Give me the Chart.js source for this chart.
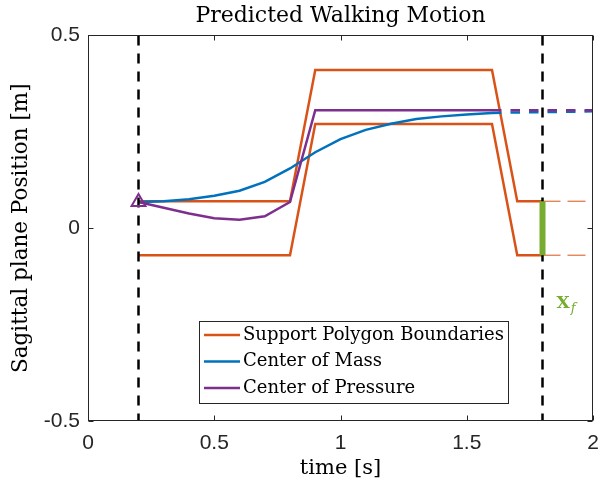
<!DOCTYPE html>
<html>
<head>
<meta charset="utf-8">
<script src="https://cdn.jsdelivr.net/npm/chart.js@4.4.1/dist/chart.umd.min.js"></script>
<style>
html,body{margin:0;padding:0;background:#fff;}
#wrap{width:600px;height:486px;}
</style>
</head>
<body>
<div id="wrap"><canvas id="c" width="600" height="486"></canvas></div>
<script>
// ---- data ----
const titleText = "Predicted Walking Motion";
const xTitle = "time [s]";
const yTitle = "Sagittal plane Position [m]";
const xTicks = [0, 0.5, 1, 1.5, 2];
const yTicks = [-0.5, 0, 0.5];
const legendLabels = ["Support Polygon Boundaries", "Center of Mass", "Center of Pressure"];

const supportT = [0.2, 0.8, 0.9, 1.6, 1.7, 1.8];
const supportUpper = [0.07, 0.07, 0.41, 0.41, 0.07, 0.07];
const supportLower = [-0.07, -0.07, 0.27, 0.27, -0.07, -0.07];
const supportExtT = [1.8, 2.0];
const supportExtUpper = [0.07, 0.07];
const supportExtLower = [-0.07, -0.07];

const comT = [0.2, 0.3, 0.4, 0.5, 0.6, 0.7, 0.8, 0.9, 1.0, 1.1, 1.2, 1.3, 1.4, 1.5, 1.6];
const comY = [0.068, 0.070, 0.075, 0.084, 0.097, 0.120, 0.155, 0.197, 0.231, 0.255, 0.271, 0.283, 0.290, 0.295, 0.299];
const comPredT = [1.6, 2.0];
const comPredY = [0.299, 0.303];

const copT = [0.2, 0.3, 0.4, 0.5, 0.6, 0.7, 0.8, 0.9, 1.6];
const copY = [0.068, 0.053, 0.038, 0.026, 0.022, 0.031, 0.068, 0.306, 0.306];
const copPredT = [1.6, 2.0];
const copPredY = [0.306, 0.306];

const startMarker = [0.2, 0.068];
const phaseLinesT = [0.2, 1.8];
const xfT = 1.8;
const xfRange = [-0.07, 0.07];
const xfLabel = ["X", "f"];

const C_OR = "#D95319", C_BL = "#0072BD", C_PU = "#7E2F8E", C_GR = "#77AC30", C_AX = "#262626";

const pts = (xs, ys) => xs.map((x, i) => ({x: x, y: ys[i]}));
const base = {fill: false, pointRadius: 0, tension: 0, borderCapStyle: 'butt', borderJoinStyle: 'miter'};

const datasets = [
  Object.assign({}, base, {label: 'sup_up', data: pts(supportT, supportUpper), borderColor: C_OR, borderWidth: 2.5, order: 8}),
  Object.assign({}, base, {label: 'sup_lo', data: pts(supportT, supportLower), borderColor: C_OR, borderWidth: 2.5, order: 8}),
  Object.assign({}, base, {label: 'sup_ext_up', data: pts(supportExtT, supportExtUpper), borderColor: C_OR, borderWidth: 1, borderDash: [18, 7], order: 8}),
  Object.assign({}, base, {label: 'sup_ext_lo', data: pts(supportExtT, supportExtLower), borderColor: C_OR, borderWidth: 1, borderDash: [18, 7], order: 8}),
  Object.assign({}, base, {label: 'com', data: pts(comT, comY), borderColor: C_BL, borderWidth: 2.5, order: 7}),
  Object.assign({}, base, {label: 'com_pred', data: pts(comPredT, comPredY), borderColor: C_BL, borderWidth: 2.5, borderDash: [9.5, 9], order: 7}),
  Object.assign({}, base, {label: 'cop', data: pts(copT, copY), borderColor: C_PU, borderWidth: 2.5, order: 6}),
  Object.assign({}, base, {label: 'cop_pred', data: pts(copPredT, copPredY), borderColor: C_PU, borderWidth: 2.5, borderDash: [9.5, 9], order: 6}),
  Object.assign({}, base, {label: 'phase1', data: pts([phaseLinesT[0], phaseLinesT[0]], [0.5, -0.5]), borderColor: '#000', borderWidth: 2.5, borderDash: [10, 8], order: 4}),
  Object.assign({}, base, {label: 'phase2', data: pts([phaseLinesT[1], phaseLinesT[1]], [0.5, -0.5]), borderColor: '#000', borderWidth: 2.5, borderDash: [10, 8], order: 4}),
  Object.assign({}, base, {label: 'xf', data: pts([xfT, xfT], xfRange), borderColor: C_GR, borderWidth: 6, order: 2}),
  {label: 'start', data: pts([startMarker[0]], [startMarker[1]]), showLine: false, pointStyle: 'triangle', pointRadius: 8, borderWidth: 2, pointBorderColor: C_PU, pointBackgroundColor: 'rgba(0,0,0,0)', borderColor: C_PU, order: 1}
];

const boxPlugin = {
  id: 'boxPlugin',
  afterDatasetsDraw(chart) {
    const ctx = chart.ctx, a = chart.chartArea, xs = chart.scales.x, ys = chart.scales.y;
    ctx.save();
    ctx.strokeStyle = C_AX; ctx.lineWidth = 1;
    const L = Math.round(a.left) + 0.5, R = Math.round(a.right) - 0.5, T = Math.round(a.top) + 0.5, B = Math.round(a.bottom) - 0.5;
    ctx.strokeRect(L, T, R - L, B - T);
    ctx.beginPath();
    xTicks.forEach(v => {
      const px = Math.round(xs.getPixelForValue(v)) + 0.5;
      ctx.moveTo(px, B); ctx.lineTo(px, B - 5);
      ctx.moveTo(px, T); ctx.lineTo(px, T + 5);
    });
    yTicks.forEach(v => {
      const py = Math.round(ys.getPixelForValue(v)) + 0.5;
      ctx.moveTo(L, py); ctx.lineTo(L + 5, py);
      ctx.moveTo(R, py); ctx.lineTo(R - 5, py);
    });
    ctx.stroke();
    ctx.restore();
  },
  afterDraw(chart) {
    const ctx = chart.ctx, xs = chart.scales.x, ys = chart.scales.y;
    ctx.save();
    // legend
    const bx = 199.5, by = 321.5, bw = 309, bh = 82;
    ctx.fillStyle = '#fff';
    ctx.fillRect(bx, by, bw, bh);
    ctx.strokeStyle = C_AX; ctx.lineWidth = 1;
    ctx.strokeRect(bx, by, bw, bh);
    const cols = [C_OR, C_BL, C_PU];
    ctx.font = '18px "DejaVu Serif"';
    ctx.textBaseline = 'middle'; ctx.textAlign = 'left';
    legendLabels.forEach((t, i) => {
      const yy = 335 + i * 26.5;
      ctx.strokeStyle = cols[i]; ctx.lineWidth = 2.5;
      ctx.beginPath(); ctx.moveTo(204, yy); ctx.lineTo(240, yy); ctx.stroke();
      ctx.fillStyle = '#000';
      ctx.fillText(t, 243, yy);
    });
    // X_f label
    const lx = xs.getPixelForValue(1.8) + 14, ly = ys.getPixelForValue(-0.208);
    ctx.fillStyle = C_GR;
    ctx.textBaseline = 'alphabetic';
    ctx.font = 'bold 17px "DejaVu Serif"';
    ctx.fillText(xfLabel[0], lx, ly);
    const w = ctx.measureText(xfLabel[0]).width;
    ctx.font = 'italic 13px "DejaVu Serif"';
    ctx.fillText(xfLabel[1], lx + w + 1, ly + 4);
    ctx.restore();
  }
};

new Chart(document.getElementById('c'), {
  type: 'line',
  data: {datasets: datasets},
  options: {
    responsive: false,
    animation: false,
    devicePixelRatio: 1,
    layout: {padding: {right: 7, left: 0, top: 0, bottom: 0}, autoPadding: false},
    plugins: {
      legend: {display: false},
      tooltip: {enabled: false},
      title: {display: true, text: titleText, fullSize: false, color: '#000',
        font: {family: '"DejaVu Serif"', size: 22, weight: 'normal', lineHeight: 1.2}, padding: {top: 3, bottom: 6}}
    },
    scales: {
      x: {
        type: 'linear', min: 0, max: 2,
        afterBuildTicks: s => { s.ticks = xTicks.map(v => ({value: v})); },
        afterFit: s => { s.height = 65; s.paddingLeft = 0; s.paddingRight = 0; },
        grid: {display: false, drawTicks: false},
        border: {display: false},
        ticks: {padding: 10, color: C_AX, font: {family: '"Liberation Sans"', size: 21}, maxRotation: 0,
          callback: v => String(v)},
        title: {display: true, text: xTitle, color: '#000', font: {family: '"DejaVu Serif"', size: 21, lineHeight: 1.2}, padding: {top: 0, bottom: 5}}
      },
      y: {
        type: 'linear', min: -0.5, max: 0.5,
        afterBuildTicks: s => { s.ticks = yTicks.map(v => ({value: v})); },
        afterFit: s => { s.width = 88; s.paddingTop = 0; s.paddingBottom = 0; },
        grid: {display: false, drawTicks: false},
        border: {display: false},
        ticks: {padding: 8, color: C_AX, font: {family: '"Liberation Sans"', size: 21},
          callback: v => String(v)},
        title: {display: true, text: yTitle, color: '#000', font: {family: '"DejaVu Serif"', size: 21.5, lineHeight: 1.2}, padding: {top: 9, bottom: 0}}
      }
    }
  },
  plugins: [boxPlugin]
});
</script>
</body>
</html>
